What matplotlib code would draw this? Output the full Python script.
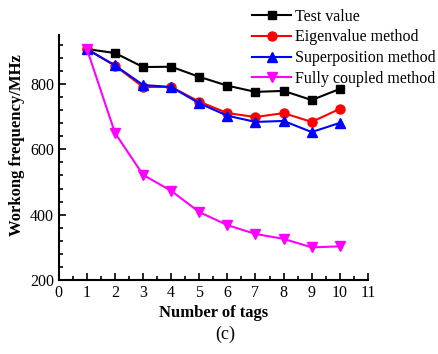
import matplotlib
matplotlib.use("Agg")
import matplotlib.pyplot as plt
from matplotlib.ticker import MultipleLocator

plt.rcParams['font.family'] = ['Liberation Serif', 'DejaVu Serif']

tags = [1, 2, 3, 4, 5, 6, 7, 8, 9, 10]
test_value = [907, 895, 852, 853, 822, 795, 776, 779, 751, 785]
eigenvalue = [907, 856, 791, 791, 746, 711, 699, 711, 684, 724]
superposition = [907, 857, 797, 791, 741, 703, 684, 687, 653, 681]
fully_coupled = [907, 650, 522, 473, 408, 368, 341, 326, 300, 303]

fig = plt.figure(figsize=(4.39, 3.54), dpi=100)
ax = fig.add_axes([0.134, 0.209, 0.704, 0.692])

l1, = ax.plot(tags, test_value, color='black', marker='s', ms=6, lw=1.5, label='Test value')
l2, = ax.plot(tags, eigenvalue, color='red', marker='o', ms=6.5, lw=1.5, label='Eigenvalue method')
l3, = ax.plot(tags, superposition, color='blue', marker='^', ms=7, lw=1.5, label='Superposition method')
l4, = ax.plot(tags, fully_coupled, color='magenta', marker='v', ms=7, lw=1.5, label='Fully coupled method')

ax.set_xlim(0, 11)
ax.set_ylim(200, 950)
ax.xaxis.set_major_locator(MultipleLocator(1))
ax.xaxis.set_minor_locator(MultipleLocator(0.5))
ax.yaxis.set_major_locator(MultipleLocator(200))
ax.yaxis.set_minor_locator(MultipleLocator(40))
ax.tick_params(which='both', direction='in', width=1.2, labelsize=11.5)
ax.tick_params(which='major', length=5)
ax.tick_params(which='minor', length=3)
ax.spines['top'].set_visible(False)
ax.spines['right'].set_visible(False)
for s in ('left', 'bottom'):
    ax.spines[s].set_linewidth(1.5)

ax.set_xlabel('Number of tags', fontsize=12, fontweight='bold', labelpad=3)
ax.set_ylabel('Workong frequency/MHz', fontsize=12, fontweight='bold', labelpad=2)
ax.yaxis.set_label_coords(-0.11, 0.55)

fig.legend(handles=[l1, l2, l3, l4], loc='upper right', bbox_to_anchor=(1.01, 0.998),
           frameon=False, fontsize=11.5, handlelength=2.4, handletextpad=0.25,
           labelspacing=0.3, borderaxespad=0.1)

fig.text(0.513, 0.055, '(c)', ha='center', va='center', fontsize=13)

fig.savefig('out.png', dpi=100)
